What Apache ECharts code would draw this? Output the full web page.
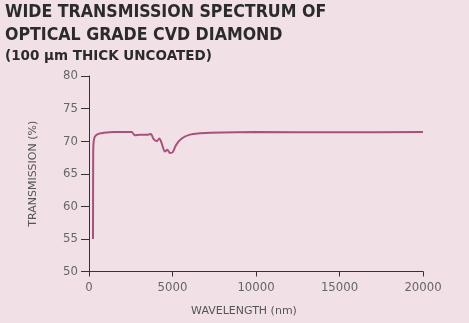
<!DOCTYPE html>
<html>
<head>
<meta charset="utf-8">
<script src="https://cdn.jsdelivr.net/npm/echarts@6/dist/echarts.min.js"></script>
<style>
  html, body { margin: 0; padding: 0; background: #f2e0e7; }
  #chart { width: 469px; height: 323px; }
</style>
</head>
<body>
<div id="chart"></div>
<script>
// Wavelength samples (nm) and measured transmission (%) of 100 µm uncoated CVD diamond
const wavelengthNm = [240, 245, 250, 265, 320, 420, 600, 900, 1500, 2000, 2550, 2750, 3050, 3530, 3710, 3850, 4050, 4210, 4350, 4550, 4690, 4850, 5010, 5210, 5550, 6050, 6650, 7250, 10000, 15000, 20000];
const transmissionPct = [55.0, 62.0, 67.0, 69.5, 70.5, 70.9, 71.15, 71.3, 71.4, 71.4, 71.4, 70.9, 71.0, 71.0, 71.1, 70.4, 70.0, 70.4, 69.7, 68.4, 68.7, 68.2, 68.3, 69.4, 70.4, 71.0, 71.2, 71.3, 71.4, 71.35, 71.4];

const titleLines = ['WIDE TRANSMISSION SPECTRUM OF', 'OPTICAL GRADE CVD DIAMOND', '(100 µm THICK UNCOATED)'];
const xAxisName = 'WAVELENGTH (nm)';
const yAxisName = 'TRANSMISSION (%)';

const points = wavelengthNm.map((w, i) => [w, transmissionPct[i]]);

const chart = echarts.init(document.getElementById('chart'), null, { renderer: 'canvas' });
const headFont = '"DejaVu Sans Condensed", "DejaVu Sans", sans-serif';
const tickFont = '"DejaVu Sans Condensed", "DejaVu Sans", sans-serif';
const nameFont = '"DejaVu Sans", sans-serif';

chart.setOption({
  backgroundColor: '#f2e0e7',
  animation: false,
  title: [
    { text: titleLines[0], left: 0, top: 1, padding: [2, 5], textStyle: { fontFamily: headFont, fontWeight: 'bold', fontSize: 17.6, color: '#2b2b2b' } },
    { text: titleLines[1], left: 0, top: 24, padding: [2, 5], textStyle: { fontFamily: headFont, fontWeight: 'bold', fontSize: 17.6, color: '#2b2b2b' } },
    { text: titleLines[2], left: 0, top: 47, padding: [2, 5], textStyle: { fontFamily: nameFont, fontWeight: 'bold', fontSize: 13.5, color: '#2b2b2b' } }
  ],
  grid: { left: 89, right: 46, top: 76, bottom: 51.5 },
  xAxis: {
    type: 'value',
    min: 0, max: 20000, interval: 5000,
    name: xAxisName,
    nameLocation: 'middle',
    nameGap: 34,
    nameTextStyle: { fontFamily: nameFont, fontSize: 11, color: '#555', padding: [0, 24, 0, 0] },
    axisLine: { lineStyle: { color: '#333', width: 1 } },
    axisTick: { show: true, inside: false, length: 5, lineStyle: { color: '#333' } },
    axisLabel: { fontFamily: tickFont, fontSize: 13, color: '#666', margin: 10, formatter: v => String(v) },
    splitLine: { show: false }
  },
  yAxis: {
    type: 'value',
    min: 50, max: 80, interval: 5,
    name: yAxisName,
    nameLocation: 'middle',
    nameGap: 50,
    nameTextStyle: { fontFamily: nameFont, fontSize: 11, color: '#555' },
    axisLine: { show: true, lineStyle: { color: '#333', width: 1 } },
    axisTick: { show: true, inside: false, length: 8, lineStyle: { color: '#333' } },
    axisLabel: { fontFamily: tickFont, fontSize: 13, color: '#666', margin: 11 },
    splitLine: { show: false }
  },
  series: [{
    type: 'line',
    data: points,
    smooth: 0.3,
    showSymbol: false,
    lineStyle: { color: '#a5527c', width: 2 }
  }]
});
</script>
</body>
</html>
